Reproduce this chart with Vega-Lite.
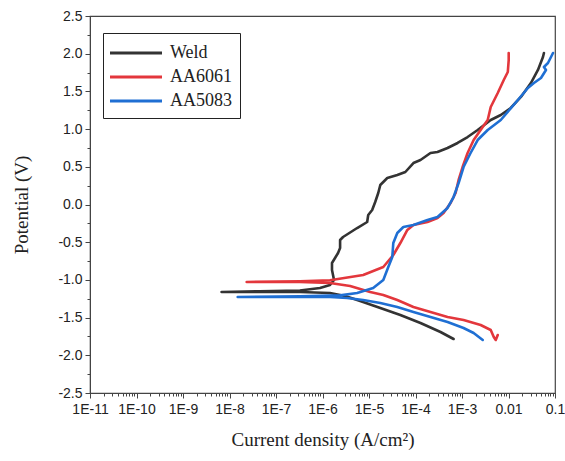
{
  "$schema": "https://vega.github.io/schema/vega-lite/v6.json",
  "width": 465,
  "height": 377,
  "autosize": "none",
  "padding": {"left": 90, "top": 16, "right": 10, "bottom": 68},
  "background": "white",
  "config": {
    "view": {"stroke": "#444444", "strokeWidth": 1.2},
    "axis": {"grid": false, "domainColor": "#444444", "tickColor": "#444444", "labelColor": "#222222", "titleColor": "#222222", "labelFont": "Liberation Sans", "labelFontSize": 14, "titleFont": "Liberation Serif", "titleFontSize": 19, "titleFontWeight": "normal"}
  },
  "datasets": {
    "curves": [
      {"sample": "Weld", "seq": 1, "current": 6.59e-4, "potential": -1.784},
      {"sample": "Weld", "seq": 2, "current": 3.45e-4, "potential": -1.691},
      {"sample": "Weld", "seq": 3, "current": 1.28e-4, "potential": -1.572},
      {"sample": "Weld", "seq": 4, "current": 4.72e-5, "potential": -1.466},
      {"sample": "Weld", "seq": 5, "current": 1.75e-5, "potential": -1.373},
      {"sample": "Weld", "seq": 6, "current": 6.46e-6, "potential": -1.280},
      {"sample": "Weld", "seq": 7, "current": 3.06e-6, "potential": -1.214},
      {"sample": "Weld", "seq": 8, "current": 1.45e-6, "potential": -1.174},
      {"sample": "Weld", "seq": 9, "current": 3.27e-7, "potential": -1.160},
      {"sample": "Weld", "seq": 10, "current": 4.47e-8, "potential": -1.160},
      {"sample": "Weld", "seq": 11, "current": 6.75e-9, "potential": -1.160},
      {"sample": "Weld", "seq": 12, "current": 4.47e-8, "potential": -1.150},
      {"sample": "Weld", "seq": 13, "current": 3.27e-7, "potential": -1.140},
      {"sample": "Weld", "seq": 14, "current": 8.83e-7, "potential": -1.107},
      {"sample": "Weld", "seq": 15, "current": 1.45e-6, "potential": -1.068},
      {"sample": "Weld", "seq": 16, "current": 1.77e-6, "potential": -1.001},
      {"sample": "Weld", "seq": 17, "current": 1.60e-6, "potential": -0.869},
      {"sample": "Weld", "seq": 18, "current": 1.60e-6, "potential": -0.776},
      {"sample": "Weld", "seq": 19, "current": 1.86e-6, "potential": -0.710},
      {"sample": "Weld", "seq": 20, "current": 2.16e-6, "potential": -0.643},
      {"sample": "Weld", "seq": 21, "current": 2.39e-6, "potential": -0.577},
      {"sample": "Weld", "seq": 22, "current": 2.39e-6, "potential": -0.471},
      {"sample": "Weld", "seq": 23, "current": 2.77e-6, "potential": -0.431},
      {"sample": "Weld", "seq": 24, "current": 5.56e-6, "potential": -0.312},
      {"sample": "Weld", "seq": 25, "current": 9.14e-6, "potential": -0.232},
      {"sample": "Weld", "seq": 26, "current": 9.62e-6, "potential": -0.139},
      {"sample": "Weld", "seq": 27, "current": 1.17e-5, "potential": -0.073},
      {"sample": "Weld", "seq": 28, "current": 1.36e-5, "potential": 0.033},
      {"sample": "Weld", "seq": 29, "current": 1.58e-5, "potential": 0.153},
      {"sample": "Weld", "seq": 30, "current": 1.75e-5, "potential": 0.259},
      {"sample": "Weld", "seq": 31, "current": 2.47e-5, "potential": 0.351},
      {"sample": "Weld", "seq": 32, "current": 4.06e-5, "potential": 0.391},
      {"sample": "Weld", "seq": 33, "current": 6.05e-5, "potential": 0.431},
      {"sample": "Weld", "seq": 34, "current": 9.02e-5, "potential": 0.550},
      {"sample": "Weld", "seq": 35, "current": 1.28e-4, "potential": 0.590},
      {"sample": "Weld", "seq": 36, "current": 2.10e-4, "potential": 0.683},
      {"sample": "Weld", "seq": 37, "current": 2.97e-4, "potential": 0.696},
      {"sample": "Weld", "seq": 38, "current": 4.89e-4, "potential": 0.749},
      {"sample": "Weld", "seq": 39, "current": 8.04e-4, "potential": 0.816},
      {"sample": "Weld", "seq": 40, "current": 1.32e-3, "potential": 0.895},
      {"sample": "Weld", "seq": 41, "current": 2.17e-3, "potential": 0.988},
      {"sample": "Weld", "seq": 42, "current": 4.15e-3, "potential": 1.121},
      {"sample": "Weld", "seq": 43, "current": 6.82e-3, "potential": 1.187},
      {"sample": "Weld", "seq": 44, "current": 1.12e-2, "potential": 1.280},
      {"sample": "Weld", "seq": 45, "current": 1.85e-2, "potential": 1.426},
      {"sample": "Weld", "seq": 46, "current": 3.03e-2, "potential": 1.611},
      {"sample": "Weld", "seq": 47, "current": 4.30e-2, "potential": 1.784},
      {"sample": "Weld", "seq": 48, "current": 5.51e-2, "potential": 1.956},
      {"sample": "Weld", "seq": 49, "current": 5.78e-2, "potential": 2.009},

      {"sample": "AA6061", "seq": 1, "current": 5.87e-3, "potential": -1.731},
      {"sample": "AA6061", "seq": 2, "current": 5.32e-3, "potential": -1.797},
      {"sample": "AA6061", "seq": 3, "current": 4.82e-3, "potential": -1.757},
      {"sample": "AA6061", "seq": 4, "current": 4.15e-3, "potential": -1.664},
      {"sample": "AA6061", "seq": 5, "current": 2.52e-3, "potential": -1.598},
      {"sample": "AA6061", "seq": 6, "current": 1.08e-3, "potential": -1.532},
      {"sample": "AA6061", "seq": 7, "current": 4.89e-4, "potential": -1.492},
      {"sample": "AA6061", "seq": 8, "current": 2.10e-4, "potential": -1.426},
      {"sample": "AA6061", "seq": 9, "current": 9.02e-5, "potential": -1.359},
      {"sample": "AA6061", "seq": 10, "current": 4.06e-5, "potential": -1.267},
      {"sample": "AA6061", "seq": 11, "current": 2.03e-5, "potential": -1.200},
      {"sample": "AA6061", "seq": 12, "current": 1.06e-5, "potential": -1.160},
      {"sample": "AA6061", "seq": 13, "current": 3.93e-6, "potential": -1.081},
      {"sample": "AA6061", "seq": 14, "current": 1.45e-6, "potential": -1.041},
      {"sample": "AA6061", "seq": 15, "current": 3.27e-7, "potential": -1.028},
      {"sample": "AA6061", "seq": 16, "current": 2.34e-8, "potential": -1.028},
      {"sample": "AA6061", "seq": 17, "current": 3.27e-7, "potential": -1.018},
      {"sample": "AA6061", "seq": 18, "current": 1.45e-6, "potential": -1.005},
      {"sample": "AA6061", "seq": 19, "current": 7.50e-6, "potential": -0.935},
      {"sample": "AA6061", "seq": 20, "current": 2.03e-5, "potential": -0.829},
      {"sample": "AA6061", "seq": 21, "current": 3.33e-5, "potential": -0.670},
      {"sample": "AA6061", "seq": 22, "current": 4.72e-5, "potential": -0.511},
      {"sample": "AA6061", "seq": 23, "current": 6.68e-5, "potential": -0.338},
      {"sample": "AA6061", "seq": 24, "current": 9.02e-5, "potential": -0.272},
      {"sample": "AA6061", "seq": 25, "current": 1.81e-4, "potential": -0.232},
      {"sample": "AA6061", "seq": 26, "current": 2.97e-4, "potential": -0.179},
      {"sample": "AA6061", "seq": 27, "current": 4.01e-4, "potential": -0.113},
      {"sample": "AA6061", "seq": 28, "current": 5.68e-4, "potential": 0.020},
      {"sample": "AA6061", "seq": 29, "current": 7.28e-4, "potential": 0.153},
      {"sample": "AA6061", "seq": 30, "current": 8.45e-4, "potential": 0.325},
      {"sample": "AA6061", "seq": 31, "current": 1.03e-3, "potential": 0.497},
      {"sample": "AA6061", "seq": 32, "current": 1.32e-3, "potential": 0.683},
      {"sample": "AA6061", "seq": 33, "current": 1.78e-3, "potential": 0.855},
      {"sample": "AA6061", "seq": 34, "current": 2.79e-3, "potential": 1.028},
      {"sample": "AA6061", "seq": 35, "current": 3.57e-3, "potential": 1.121},
      {"sample": "AA6061", "seq": 36, "current": 4.15e-3, "potential": 1.293},
      {"sample": "AA6061", "seq": 37, "current": 5.87e-3, "potential": 1.479},
      {"sample": "AA6061", "seq": 38, "current": 7.91e-3, "potential": 1.651},
      {"sample": "AA6061", "seq": 39, "current": 9.66e-3, "potential": 1.757},
      {"sample": "AA6061", "seq": 40, "current": 1.01e-2, "potential": 1.916},
      {"sample": "AA6061", "seq": 41, "current": 1.01e-2, "potential": 2.009},

      {"sample": "AA5083", "seq": 1, "current": 2.79e-3, "potential": -1.797},
      {"sample": "AA5083", "seq": 2, "current": 1.78e-3, "potential": -1.704},
      {"sample": "AA5083", "seq": 3, "current": 1.08e-3, "potential": -1.638},
      {"sample": "AA5083", "seq": 4, "current": 4.89e-4, "potential": -1.558},
      {"sample": "AA5083", "seq": 5, "current": 2.10e-4, "potential": -1.492},
      {"sample": "AA5083", "seq": 6, "current": 9.02e-5, "potential": -1.426},
      {"sample": "AA5083", "seq": 7, "current": 4.06e-5, "potential": -1.359},
      {"sample": "AA5083", "seq": 8, "current": 1.75e-5, "potential": -1.306},
      {"sample": "AA5083", "seq": 9, "current": 7.50e-6, "potential": -1.267},
      {"sample": "AA5083", "seq": 10, "current": 3.38e-6, "potential": -1.240},
      {"sample": "AA5083", "seq": 11, "current": 1.45e-6, "potential": -1.227},
      {"sample": "AA5083", "seq": 12, "current": 3.27e-7, "potential": -1.227},
      {"sample": "AA5083", "seq": 13, "current": 1.50e-8, "potential": -1.227},
      {"sample": "AA5083", "seq": 14, "current": 3.27e-7, "potential": -1.216},
      {"sample": "AA5083", "seq": 15, "current": 2.39e-6, "potential": -1.205},
      {"sample": "AA5083", "seq": 16, "current": 5.56e-6, "potential": -1.174},
      {"sample": "AA5083", "seq": 17, "current": 1.23e-5, "potential": -1.107},
      {"sample": "AA5083", "seq": 18, "current": 2.03e-5, "potential": -1.001},
      {"sample": "AA5083", "seq": 19, "current": 2.60e-5, "potential": -0.829},
      {"sample": "AA5083", "seq": 20, "current": 3.17e-5, "potential": -0.696},
      {"sample": "AA5083", "seq": 21, "current": 3.33e-5, "potential": -0.511},
      {"sample": "AA5083", "seq": 22, "current": 4.06e-5, "potential": -0.378},
      {"sample": "AA5083", "seq": 23, "current": 5.48e-5, "potential": -0.298},
      {"sample": "AA5083", "seq": 24, "current": 9.02e-5, "potential": -0.272},
      {"sample": "AA5083", "seq": 25, "current": 1.81e-4, "potential": -0.206},
      {"sample": "AA5083", "seq": 26, "current": 2.97e-4, "potential": -0.166},
      {"sample": "AA5083", "seq": 27, "current": 4.89e-4, "potential": -0.046},
      {"sample": "AA5083", "seq": 28, "current": 6.59e-4, "potential": 0.099},
      {"sample": "AA5083", "seq": 29, "current": 8.45e-4, "potential": 0.285},
      {"sample": "AA5083", "seq": 30, "current": 1.08e-3, "potential": 0.497},
      {"sample": "AA5083", "seq": 31, "current": 1.53e-3, "potential": 0.683},
      {"sample": "AA5083", "seq": 32, "current": 2.17e-3, "potential": 0.855},
      {"sample": "AA5083", "seq": 33, "current": 3.57e-3, "potential": 0.988},
      {"sample": "AA5083", "seq": 34, "current": 6.82e-3, "potential": 1.121},
      {"sample": "AA5083", "seq": 35, "current": 1.59e-2, "potential": 1.386},
      {"sample": "AA5083", "seq": 36, "current": 2.61e-2, "potential": 1.545},
      {"sample": "AA5083", "seq": 37, "current": 3.52e-2, "potential": 1.611},
      {"sample": "AA5083", "seq": 38, "current": 4.99e-2, "potential": 1.678},
      {"sample": "AA5083", "seq": 39, "current": 6.40e-2, "potential": 1.784},
      {"sample": "AA5083", "seq": 40, "current": 5.78e-2, "potential": 1.824},
      {"sample": "AA5083", "seq": 41, "current": 7.06e-2, "potential": 1.877},
      {"sample": "AA5083", "seq": 42, "current": 8.20e-2, "potential": 1.956},
      {"sample": "AA5083", "seq": 43, "current": 9.06e-2, "potential": 2.009}
    ]
  },
  "data": {"name": "curves"},
  "layer": [
    {
      "mark": {"type": "point", "opacity": 0},
      "encoding": {
        "x": {"field": "current", "type": "quantitative", "scale": {"type": "log", "domain": [1e-11, 0.1]},
          "axis": {"orient": "bottom", "values": [2e-11,3e-11,4e-11,5e-11,6e-11,7e-11,8e-11,9e-11,2e-10,3e-10,4e-10,5e-10,6e-10,7e-10,8e-10,9e-10,2e-9,3e-9,4e-9,5e-9,6e-9,7e-9,8e-9,9e-9,2e-8,3e-8,4e-8,5e-8,6e-8,7e-8,8e-8,9e-8,2e-7,3e-7,4e-7,5e-7,6e-7,7e-7,8e-7,9e-7,2e-6,3e-6,4e-6,5e-6,6e-6,7e-6,8e-6,9e-6,2e-5,3e-5,4e-5,5e-5,6e-5,7e-5,8e-5,9e-5,2e-4,3e-4,4e-4,5e-4,6e-4,7e-4,8e-4,9e-4,2e-3,3e-3,4e-3,5e-3,6e-3,7e-3,8e-3,9e-3,0.02,0.03,0.04,0.05,0.06,0.07,0.08,0.09], "labels": false, "tickSize": 3, "domain": false, "title": null}},
        "y": {"field": "potential", "type": "quantitative", "scale": {"domain": [-2.5, 2.5]},
          "axis": {"orient": "left", "values": [-2.25,-1.75,-1.25,-0.75,-0.25,0.25,0.75,1.25,1.75,2.25], "labels": false, "tickSize": 3, "domain": false, "title": null}}
      }
    },
    {
      "mark": {"type": "line", "strokeWidth": 2.6, "strokeJoin": "round", "strokeCap": "round"},
      "encoding": {
        "x": {"field": "current", "type": "quantitative", "scale": {"type": "log", "domain": [1e-11, 0.1]},
          "axis": {"orient": "bottom", "values": [1e-11,1e-10,1e-9,1e-8,1e-7,1e-6,1e-5,1e-4,1e-3,0.01,0.1], "tickSize": 5, "labelPadding": 4, "labelOverlap": false, "labelFlush": false, "labelBound": false,
            "labelExpr": "datum.value > 0.005 ? (datum.value > 0.05 ? '0.1' : '0.01') : '1E' + round(log(datum.value) / LN10)",
            "title": "Current density (A/cm²)", "titlePadding": 14}},
        "y": {"field": "potential", "type": "quantitative", "scale": {"domain": [-2.5, 2.5]},
          "axis": {"orient": "left", "values": [-2.5,-2,-1.5,-1,-0.5,0,0.5,1,1.5,2,2.5], "tickSize": 5, "labelPadding": 3,
            "labelExpr": "replace(format(datum.value, '.1f'), '\u2212', '-')",
            "title": "Potential (V)", "titlePadding": 26}},
        "color": {"field": "sample", "type": "nominal",
          "scale": {"domain": ["Weld", "AA6061", "AA5083"], "range": ["#333333", "#e3373c", "#1f6fd3"]},
          "legend": {"orient": "none", "legendX": 13, "legendY": 17, "title": null, "direction": "vertical",
            "symbolType": "M-2.6,0H2.6", "symbolSize": 400, "symbolStrokeWidth": 3.2, "symbolOffset": 13,
            "labelFont": "Liberation Serif", "labelFontSize": 18, "labelColor": "#222222", "labelOffset": 22,
            "strokeColor": "#222222", "fillColor": "white", "padding": 8, "rowPadding": 3}},
        "order": {"field": "seq", "type": "quantitative"}
      }
    }
  ],
  "resolve": {"axis": {"x": "independent", "y": "independent"}}
}
